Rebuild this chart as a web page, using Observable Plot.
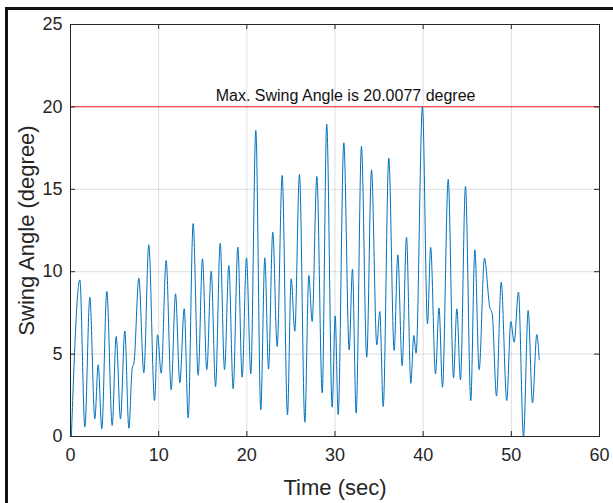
<!DOCTYPE html>
<html><head><meta charset="utf-8">
<script src="https://cdn.jsdelivr.net/npm/d3@7"></script>
<script src="https://cdn.jsdelivr.net/npm/@observablehq/plot@0.6"></script>
<style>
html,body{margin:0;padding:0;background:#fff;overflow:hidden}
#wrap{position:relative;width:613px;height:503px;overflow:hidden;background:#fff}
#border{position:absolute;left:5px;top:7px;width:700px;height:600px;border-left:3px solid #111;border-top:3px solid #111;border-right:0;border-bottom:0;box-sizing:border-box;pointer-events:none}
</style></head><body><div id="wrap"><div id="chart"></div><div id="border"></div></div>
<script>
// Peaks, troughs and shoulders (time in s, angle in degrees)
const timeSec = [0.1,1.06,1.63,2.19,2.76,3.14,3.55,4.12,4.73,5.18,5.67,6.16,6.62,7.0,7.2,7.75,8.32,8.88,9.53,9.87,
  10.29,10.85,11.42,11.91,12.4,12.9,13.35,13.91,14.48,14.97,15.46,15.96,16.45,16.98,17.47,17.96,18.45,18.98,19.47,19.96,
  20.45,21.02,21.58,22.04,22.46,22.94,23.44,24.01,24.61,25.03,25.44,25.97,26.58,27.03,27.41,27.94,28.55,29.06,29.68,30.02,
  30.36,31.0,31.61,31.98,32.4,33.0,33.6,34.14,34.74,35.08,35.47,36.1,36.71,37.12,37.62,38.11,38.6,38.94,39.2,39.92,
  40.49,40.85,41.4,41.8,42.19,42.84,43.44,43.82,44.23,44.8,45.4,45.86,46.35,46.95,47.55,47.83,48.32,48.85,49.48,49.94,
  50.32,50.81,51.38,51.91,52.4,52.89,53.16];
const swingDeg = [0,9.5,0.57,8.45,1.07,4.35,0.47,8.8,0.67,6.07,1.07,6.4,0.5,4.15,4.45,9.6,3.87,11.63,2.18,6.17,
  3.84,10.68,2.83,8.66,3.26,7.75,1.13,12.92,3.72,10.78,4.05,10.03,3.03,11.73,4.05,10.38,2.89,11.49,3.6,10.84,
  3.8,18.57,1.62,10.84,4.09,12.4,5.46,15.84,1.31,9.57,6.39,15.9,0.87,9.77,6.98,15.78,2.65,18.95,1.78,7.32,
  1.33,17.82,5.26,10.15,1.42,17.6,4.81,16.18,5.56,7.58,1.82,16.89,5.22,11.02,4.29,12.09,3.23,6.13,5.06,20.0077,
  6.84,11.47,3.8,7.8,2.99,15.6,3.56,7.75,3.44,15.17,2.18,11.33,4.05,10.82,7.85,7.45,2.45,9.37,2.18,6.98,
  5.72,8.76,0,7.65,2.04,6.19,4.65];
const xTicks = [0,10,20,30,40,50,60];
const yTicks = [0,5,10,15,20,25];
const maxAngle = 20.0077;
const maxLabel = "Max. Swing Angle is 20.0077 degree";
const maxLabelTime = 31.2;
const xLabel = "Time (sec)";
const yLabel = "Swing Angle (degree)";

const data = timeSec.map((t, i) => ({t, v: swingDeg[i]}));
const W = 613, H = 503, mL = 70, mR = 14, mT = 24, mB = 67;
const innerW = W - mL - mR, innerH = H - mT - mB;
const tk = 5;
const axisColor = "#262626";

const chart = Plot.plot({
  width: W, height: H,
  marginLeft: mL, marginRight: mR, marginTop: mT, marginBottom: mB,
  style: {fontFamily: "'Liberation Sans', Arial, sans-serif", color: axisColor, background: "white"},
  x: {domain: [0, 60]},
  y: {domain: [0, 25]},
  marks: [
    Plot.gridX(xTicks, {stroke: axisColor, strokeOpacity: 0.15}),
    Plot.gridY(yTicks, {stroke: axisColor, strokeOpacity: 0.15}),
    Plot.ruleY([maxAngle], {stroke: "#ff2020", strokeWidth: 1}),
    Plot.line(data, {x: "t", y: "v", stroke: "#0072BD", strokeWidth: 1, curve: "monotone-x", clip: true}),
    Plot.text([maxLabel], {x: () => maxLabelTime, y: () => maxAngle, text: d => d, fontSize: 16, fill: "#111", lineAnchor: "bottom", dy: -6}),
    Plot.tickX(xTicks, {x: d => d, insetTop: innerH - tk, stroke: axisColor}),
    Plot.tickX(xTicks, {x: d => d, insetBottom: innerH - tk, stroke: axisColor}),
    Plot.tickY(yTicks, {y: d => d, insetRight: innerW - tk, stroke: axisColor}),
    Plot.tickY(yTicks, {y: d => d, insetLeft: innerW - tk, stroke: axisColor}),
    Plot.axisX(xTicks, {tickSize: 0, tickPadding: 12, fontSize: 18, label: null, fill: axisColor}),
    Plot.axisY(yTicks, {tickSize: 0, tickPadding: 8, fontSize: 18, label: null, fill: axisColor}),
    Plot.text([xLabel], {frameAnchor: "bottom", dy: 51, text: d => d, fontSize: 22, fill: axisColor, textAnchor: "middle", lineAnchor: "middle"}),
    Plot.text([yLabel], {frameAnchor: "left", dx: -44, rotate: -90, text: d => d, fontSize: 22, fill: axisColor, textAnchor: "middle", lineAnchor: "middle"}),
    Plot.frame({stroke: axisColor, strokeWidth: 1})
  ]
});
document.getElementById("chart").appendChild(chart);
</script></body></html>
